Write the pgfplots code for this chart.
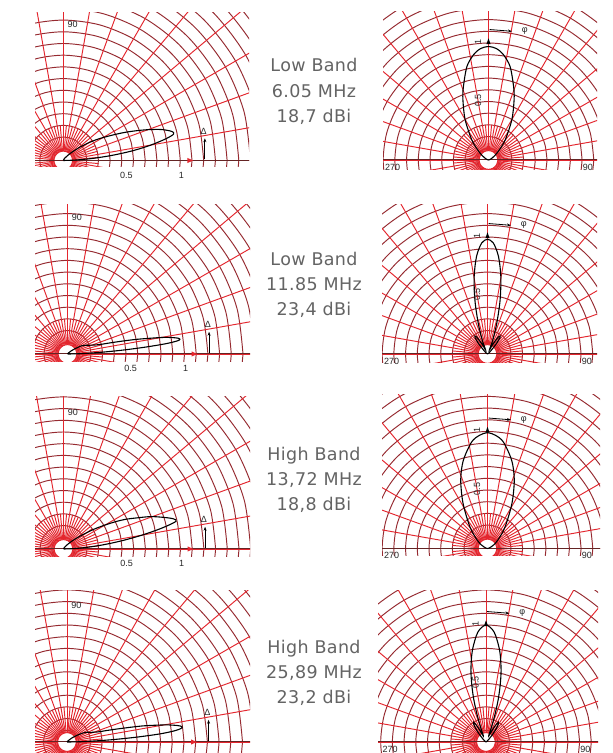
\documentclass[border=0pt]{standalone}
\usepackage{pgfplots}
\pgfplotsset{compat=1.18}
\usepackage{fontspec}
\setmainfont{DejaVu Sans}[LetterSpace=2]
\newfontfamily\plotfont{Liberation Sans}
\usetikzlibrary{arrows.meta}
\definecolor{radcol}{RGB}{228,38,46}
\definecolor{circcol}{RGB}{150,42,48}
\definecolor{axcol}{RGB}{100,36,36}
\definecolor{txt}{RGB}{100,100,100}
\tikzset{
  rad/.style={draw=radcol,line width=0.95pt},
  lbl/.style={font=\plotfont\fontsize{9}{9}\selectfont, text=black!85, inner sep=0pt},
  band/.style={font=\fontsize{17.5}{20}\selectfont, text=txt, anchor=base, inner sep=0pt},
}
\pgfplotsset{
  panel/.style={hide axis, x=117pt, y=117pt, anchor=south west},
  lobe/.style={black, line width=1.1pt, smooth, data cs=polar, mark=none},
  ring/.style={circcol, line width=0.95pt, smooth, data cs=polar, mark=none},
}
\newcommand{\polargrid}{%
  \pgfplotsinvokeforeach{0.1,0.2,0.3,0.4,0.5,0.6,0.7,0.8,0.9,1.0,1.1,1.2,1.3,1.4,1.5,1.6,1.7,1.8,1.9,2.0,2.1}{%
    \addplot[ring] coordinates {(0,##1)(15,##1)(30,##1)(45,##1)(60,##1)(75,##1)(90,##1)(105,##1)(120,##1)(135,##1)(150,##1)(165,##1)(180,##1)(195,##1)(210,##1)(225,##1)(240,##1)(255,##1)(270,##1)(285,##1)(300,##1)(315,##1)(330,##1)(345,##1)(360,##1)};}%
  \addplot[ring, radcol] coordinates {(0,0.08)(30,0.08)(60,0.08)(90,0.08)(120,0.08)(150,0.08)(180,0.08)(210,0.08)(240,0.08)(270,0.08)(300,0.08)(330,0.08)(360,0.08)};%
  \pgfplotsinvokeforeach{0,10,...,350}{\draw[rad] (axis cs:0,0) ++(##1:9.4pt) -- ++(##1:260pt);}%
  \pgfplotsinvokeforeach{5,15,...,355}{\draw[rad] (axis cs:0,0) ++(##1:9.4pt) -- ++(##1:26pt);}%
  \draw[axcol,line width=1pt] (axis cs:-2.5,0) -- (axis cs:2.5,0);%
}
\newcommand{\leftmarks}{%
  \node[lbl] at (axis cs:0.08,1.165) {90};
  \fill[radcol] (axis cs:1.06,0.022) -- (axis cs:1.11,0) -- (axis cs:1.06,-0.022) -- cycle;
  \draw[black, line width=0.8pt, -{Stealth[length=4pt,width=3pt]}] (axis cs:1.21,0.01) -- (axis cs:1.21,0.19);
  \node[lbl] at (axis cs:1.2,0.25) {Δ};
}
\newcommand{\leftlabels}{%
  \leftmarks
  \node[lbl] at (axis cs:0.54,-0.125) {0.5};
  \node[lbl] at (axis cs:1.01,-0.125) {1};
}
\newcommand{\rightlabels}{%
  \node[lbl] at (axis cs:-0.82,-0.06) {270};
  \node[lbl] at (axis cs:0.85,-0.06) {90};
  \node[lbl, rotate=90] at (axis cs:-0.09,1.01) {1};
  \node[lbl, rotate=90] at (axis cs:-0.09,0.51) {0.5};
  \draw[black, line width=0.8pt, -{Stealth[length=4pt,width=3pt]}] (axis cs:0.01,1.115) -- (axis cs:0.2,1.1);
  \node[lbl] at (axis cs:0.31,1.1) {φ};
  \fill[black] (axis cs:-0.018,0.99) -- (axis cs:0,1.04) -- (axis cs:0.018,0.99) -- cycle;
}
\begin{document}
\begin{tikzpicture}
\fill[white] (0pt,0pt) rectangle (613pt,753pt);
\useasboundingbox (0pt,0pt) rectangle (613pt,753pt);

% ---------------- Row 1 ----------------
\begin{axis}[panel, at={(35pt,586pt)}, xmin=-0.2419, xmax=1.5872, ymin=-0.0556, ymax=1.2607]
\polargrid
\addplot[lobe] coordinates {(0,0) (2,0.1) (4,0.25) (6,0.42) (8,0.6) (10,0.76) (12,0.9) (13.5,0.97) (15,0.96) (17.5,0.88) (20,0.77) (22.5,0.66) (25,0.56) (28,0.45) (32,0.34) (36,0.24) (40,0.16) (45,0.09) (50,0.05) (60,0.02) (90,0)};
\end{axis}
\begin{axis}[panel, clip=false, at={(35pt,586pt)}, xmin=-0.2419, xmax=1.5872, ymin=-0.0556, ymax=1.2607]
\leftlabels
\end{axis}
\begin{axis}[panel, at={(383pt,583pt)}, xmin=-0.9017, xmax=0.9274, ymin=-0.0855, ymax=1.265]
\polargrid
\addplot[lobe] coordinates {(0,0)(15,0.01)(30,0.04)(40,0.1)(50,0.22)(60,0.40)(67,0.56)(71,0.66)(77,0.82)(82,0.91)(86,0.955)(90,0.97)(94,0.955)(98,0.91)(103,0.82)(109,0.66)(113,0.56)(120,0.40)(130,0.22)(140,0.1)(150,0.04)(165,0.01)(180,0)};
\end{axis}
\begin{axis}[panel, clip=false, at={(383pt,583pt)}, xmin=-0.9017, xmax=0.9274, ymin=-0.0855, ymax=1.265]
\rightlabels
\end{axis}
\node[band] at (314pt,681.3pt) {Low Band};
\node[band] at (314pt,655.7pt) {6.05 MHz};
\node[band] at (314pt,630.7pt) {18,7 dBi};

% ---------------- Row 2 ----------------
\begin{axis}[panel, at={(35pt,391pt)}, xmin=-0.2778, xmax=1.5598, ymin=-0.0684, ymax=1.2735]
\polargrid
\addplot[lobe] coordinates {(0,0)(1,0.08)(2,0.17)(3,0.3)(4,0.47)(5,0.66)(6,0.85)(7,0.96)(8,0.96)(9,0.9)(10,0.81)(12,0.6)(14,0.42)(16,0.3)(18,0.25)(22,0.2)(26,0.17)(30,0.14)(35,0.08)(40,0.04)(50,0.01)(90,0)};
\end{axis}
\begin{axis}[panel, clip=false, at={(35pt,391pt)}, xmin=-0.2778, xmax=1.5598, ymin=-0.0684, ymax=1.2735]
\leftlabels
\end{axis}
\begin{axis}[panel, at={(382pt,390pt)}, xmin=-0.9017, xmax=0.9359, ymin=-0.0769, ymax=1.2735]
\polargrid
\addplot[lobe] coordinates {(0,0)(35,0.01)(44,0.04)(49,0.11)(53,0.18)(57,0.18)(61,0.1)(65,0.04)(69,0.12)(73.1,0.27)(76.8,0.47)(80.2,0.67)(83.6,0.84)(87,0.95)(90,0.98)(93,0.95)(96.4,0.84)(99.8,0.67)(103.2,0.47)(106.9,0.27)(111,0.12)(115,0.04)(119,0.1)(123,0.18)(127,0.18)(131,0.11)(136,0.04)(145,0.01)(180,0)};
\end{axis}
\begin{axis}[panel, clip=false, at={(382pt,390pt)}, xmin=-0.9017, xmax=0.9359, ymin=-0.0769, ymax=1.2735]
\rightlabels
\end{axis}
\node[band] at (314pt,487.8pt) {Low Band};
\node[band] at (314pt,462.2pt) {11.85 MHz};
\node[band] at (314pt,437.2pt) {23,4 dBi};

% ---------------- Row 3 ----------------
\begin{axis}[panel, at={(35pt,196pt)}, xmin=-0.2436, xmax=1.594, ymin=-0.0684, ymax=1.2991]
\polargrid
\addplot[lobe] coordinates {(0,0)(2,0.08)(4,0.2)(6,0.34)(8,0.5)(10,0.68)(12,0.86)(13.8,0.99)(15.5,0.97)(18,0.88)(20.5,0.79)(23,0.68)(25.5,0.59)(27.5,0.51)(30,0.41)(33,0.31)(36,0.22)(40,0.14)(45,0.08)(50,0.04)(60,0.015)(90,0)};
\end{axis}
\begin{axis}[panel, clip=false, at={(35pt,196pt)}, xmin=-0.2436, xmax=1.594, ymin=-0.0684, ymax=1.2991]
\leftlabels
\end{axis}
\begin{axis}[panel, at={(382pt,197pt)}, xmin=-0.9017, xmax=0.9615, ymin=-0.0641, ymax=1.312]
\polargrid
\addplot[lobe] coordinates {(0,0)(15,0.015)(30,0.06)(40,0.12)(51,0.24)(61.6,0.44)(68.7,0.63)(74.6,0.78)(81.5,0.92)(86,0.97)(90,0.99)(94,0.97)(98.5,0.92)(105.4,0.78)(111.3,0.63)(118.4,0.44)(129,0.24)(140,0.12)(150,0.06)(165,0.015)(180,0)};
\end{axis}
\begin{axis}[panel, clip=false, at={(382pt,197pt)}, xmin=-0.9017, xmax=0.9615, ymin=-0.0641, ymax=1.312]
\rightlabels
\end{axis}
\node[band] at (314pt,292.8pt) {High Band};
\node[band] at (314pt,267.2pt) {13,72 MHz};
\node[band] at (314pt,242.2pt) {18,8 dBi};

% ---------------- Row 4 ----------------
\begin{axis}[panel, at={(35pt,0pt)}, xmin=-0.2735, xmax=1.5641, ymin=-0.094, ymax=1.2991]
\polargrid
\addplot[lobe] coordinates {(0,0)(1,0.1)(2,0.22)(3,0.4)(4,0.6)(5,0.8)(6,0.93)(7,0.99)(8,0.98)(9,0.92)(10,0.84)(12,0.66)(14,0.48)(16,0.36)(18,0.28)(22,0.22)(26,0.19)(30,0.15)(35,0.09)(40,0.05)(50,0.01)(90,0)};
\end{axis}
\begin{axis}[panel, clip=false, at={(35pt,0pt)}, xmin=-0.2735, xmax=1.5641, ymin=-0.094, ymax=1.2991]
\leftmarks
\end{axis}
\begin{axis}[panel, at={(378pt,0pt)}, xmin=-0.9231, xmax=0.9573, ymin=-0.094, ymax=1.2991]
\polargrid
\addplot[lobe] coordinates {(0,0)(35,0.01)(45,0.04)(50,0.1)(54,0.17)(58,0.2)(61,0.15)(64,0.07)(67,0.06)(70,0.14)(72,0.25)(74,0.38)(76,0.5)(78.2,0.63)(81.5,0.79)(85.7,0.94)(90,1.0)(94.3,0.94)(98.5,0.79)(101.8,0.63)(104,0.5)(106,0.38)(108,0.25)(110,0.14)(113,0.06)(116,0.07)(119,0.15)(122,0.2)(126,0.17)(130,0.1)(135,0.04)(145,0.01)(180,0)};
\end{axis}
\begin{axis}[panel, clip=false, at={(378pt,0pt)}, xmin=-0.9231, xmax=0.9573, ymin=-0.094, ymax=1.2991]
\rightlabels
\end{axis}
\node[band] at (314pt,99.8pt) {High Band};
\node[band] at (314pt,74.2pt) {25,89 MHz};
\node[band] at (314pt,49.2pt) {23,2 dBi};
\end{tikzpicture}
\end{document}
